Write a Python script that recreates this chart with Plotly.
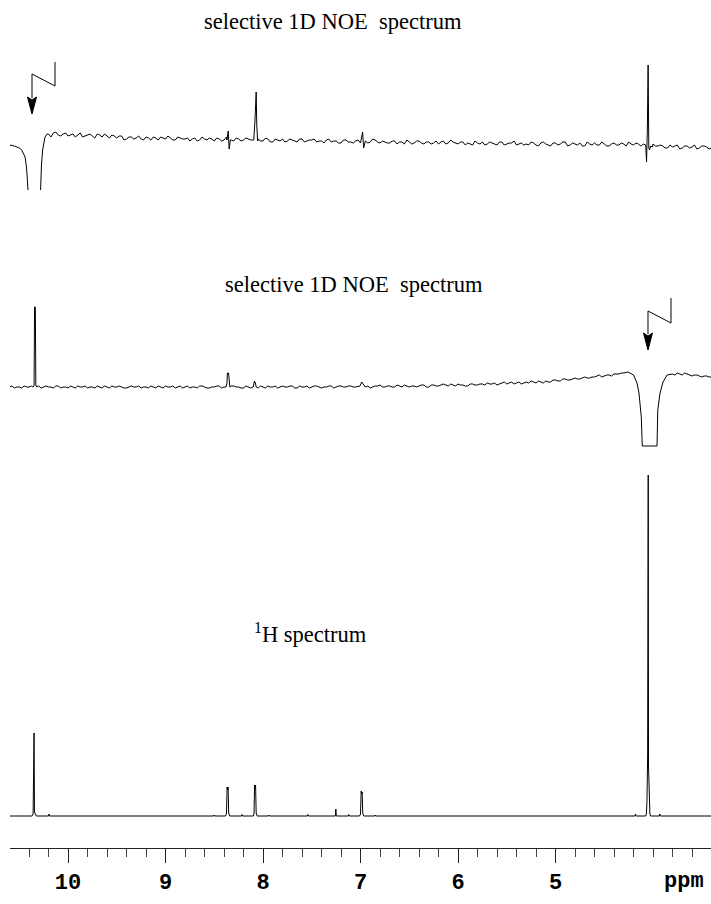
import numpy as np
import plotly.graph_objects as go

# ---------------- data (ppm, intensity in arbitrary units) ----------------
# x-axis ticks
tick_vals = [10, 9, 8, 7, 6, 5]
tick_text = ["10", "9", "8", "7", "6", "5"]
unit_label = "ppm"

# --- selective 1D NOE spectrum (irradiated at 10.35 ppm) ---
noe1_grid_start, noe1_grid_step = 10.20, 0.05
noe1_baseline = [
    6, 7, 5, 6, 4, 6, 5, 3, 5, 4, 6, 3, 4, 5,
    2, 4, 1, 3, 2, 1, 3, 0, 2, 3, 1, 2, 0, 2,
    1, -1, 2, 0, 1, 2, -1, 1, 0, 2, -1, 1, 0, 1,
    0, 1, -1, 1, -2, 0, 1, -1, 0, -2, 1, -1, 0, -2,
    -1, 0, -2, -1, -3, 0, -2, -1, -3, -1, -2, 0, -3, -2,
    -3, -1, -2, -4, -2, -3, -1, -4, -2, -3, -4, -1, -3, -2,
    -4, -2, -3, -5, -3, -2, -4, -3, -5, -2, -4, -3, -5, -3,
    -4, -2, -5, -3, -4, -6, -3, -4, -2, -5, -4, -3, -6, -4,
    -3, -5, -4, -6, -3, -5, -4, -2, -5, -4, -3, -5, -4, -6,
    -6, -8, -7, -5, -8, -6, -7, -9, -6, -7, -8,
]
# values read half-way between the grid points above (10.175 ... 3.425 ppm)
noe1_baseline_mid = [
    3, 8, 4, 7, 5, 3, 7, 4, 6, 2, 5, 6, 2, 4,
    4, 0, 3, 1, 4, 0, 2, 3, 0, 2, 4, 0, 3, 1,
    2, 1, -1, 3, 0, 1, 2, -1, 3, 0, 2, -1, 2, 0,
    -1, -1, 2, -2, 1, -1, -2, 1, -1, 1, -2, 0, 1, -1,
    -3, 1, -1, -3, 0, -2, -3, 0, -1, -3, 1, -2, -1, -3,
    -1, -4, -2, 0, -4, -1, -3, -2, -4, -1, -2, -4, 0, -3,
    -2, -5, -4, -1, -4, -5, -2, -4, -2, -5, -3, -1, -4, -5,
    -5, -3, -6, -2, -5, -3, -5, -2, -6, -3, -5, -6, -2, -5,
    -5, -2, -6, -4, -5, -3, -6, -4, -3, -6, -5, -2, -6, -5,
    -8, -5, -6, -9, -6, -8, -5, -8, -6, -9,
]
noe1_features = [
    # irradiated signal (saturated, negative)
    [(10.595, -5), (10.55, -6), (10.50, -8), (10.475, -10), (10.44, -17),
     (10.425, -28), (10.41, -50), (10.39, -100), (10.34, -140), (10.30, -100),
     (10.284, -50), (10.272, -25), (10.26, -10), (10.248, -1), (10.236, 3), (10.215, 6)],
    [(8.37, 0), (8.357, 9), (8.347, -9), (8.335, 0)],
    [(8.095, 0), (8.082, 20), (8.077, 48), (8.070, 48), (8.064, 15), (8.055, -1)],
    [(6.995, -1), (6.978, 8), (6.968, -8), (6.955, -2)],
    [(4.10, -4), (4.075, -5), (4.066, -22), (4.058, 10), (4.050, 75), (4.043, -8),
     (4.035, -10), (4.025, -6), (4.005, -7)],
]

# --- selective 1D NOE spectrum (irradiated at 4.05 ppm) ---
noe2_left_start, noe2_step = 10.60, 0.05
noe2_baseline_left = [
    0, -1, 0, 1, 0, -1, 1, 0, 0, -1, 1, 0, -1, 0,
    1, 0, -1, 0, 1, -1, 0, 1, 0, 0, -1, 1, 0, -1,
    0, 1, -1, 0, 1, 0, -1, 1, 0, -1, 0, 1, 0, -1,
    0, 1, 0, -1, 1, 0, -1, 0, 1, -1, 0, 1, 0, -1,
    1, 0, 1, -1, 0, 1, 0, 1, -1, 0, 1, 0, 1, 0,
    1, 0, 1, 0, -1, 1, 2, 0, 1, 0, 1, 2, 0, 1,
    1, 2, 0, 2, 1, 3, 1, 2, 3, 2, 1, 3, 2, 3,
    4, 3, 2, 4, 3, 5, 4, 3, 5, 6, 4, 5, 6, 5,
    7, 6, 8, 7, 9, 8, 10, 9, 10, 12, 11, 12, 13, 13,
    14,
]
# half-way values (10.575 ... 4.325 ppm)
noe2_baseline_left_mid = [
    1, 0, -1, 0, 1, 0, -1, 1, 0, 1, -1, 0, 1, -1,
    0, 1, 0, -1, 0, 1, -1, 0, 1, -1, 0, 0, 1, 0,
    -1, 0, 1, -1, 0, 1, 0, -1, 1, 0, -1, 1, -1, 0,
    1, -1, 0, 1, 0, -1, 1, -1, 0, 1, -1, 0, 1, 0,
    0, 1, -1, 1, 0, -1, 1, 0, 0, 1, -1, 1, 0, 1,
    0, 1, -1, 1, 0, 1, 0, 1, 0, 2, 0, 1, 1, 0,
    2, 0, 2, 1, 2, 2, 3, 1, 2, 1, 3, 2, 3, 2,
    3, 4, 3, 5, 4, 3, 5, 4, 4, 5, 6, 4, 5, 7,
    6, 8, 7, 8, 8, 9, 9, 10, 11, 10, 12, 11, 13, 14,
]
noe2_right_start = 3.80
noe2_baseline_right = [13, 14, 12, 13, 11, 12, 10, 11, 10]
noe2_baseline_right_mid = [12, 13, 14, 12, 12, 11, 11, 10]
noe2_features = [
    [(10.36, 0), (10.348, 1), (10.343, 80), (10.335, 80), (10.33, 2), (10.32, 0)],
    [(8.38, 0), (8.37, 3), (8.365, 14), (8.353, 14), (8.348, 2), (8.34, 0)],
    [(8.10, 0), (8.088, 6), (8.078, 4), (8.07, 0)],
    [(7.005, 1), (6.988, 5), (6.975, 3), (6.96, 1)],
    # irradiated signal (saturated, clipped)
    [(4.256, 15), (4.20, 12), (4.164, 4), (4.144, -6), (4.12, -30), (4.11, -59),
     (3.959, -59), (3.951, -23), (3.928, -6), (3.897, 5), (3.856, 12), (3.82, 13)],
]

# --- 1H spectrum ---
h1_limits = (10.595, 3.405)
h1_peaks = [
    [(10.37, 0), (10.358, 2), (10.354, 83), (10.348, 83), (10.344, 4), (10.335, 1), (10.325, 0)],
    [(10.20, 0), (10.195, 2), (10.19, 0)],
    [(8.505, 0), (8.50, 1), (8.495, 0)],
    [(8.385, 0), (8.375, 2), (8.368, 29), (8.363, 26), (8.358, 29), (8.352, 3), (8.342, 0)],
    [(8.22, 0), (8.215, 1.5), (8.21, 0)],
    [(8.10, 0), (8.092, 2), (8.086, 31), (8.081, 28), (8.076, 31), (8.07, 3), (8.06, 0)],
    [(7.945, 0), (7.94, 1), (7.935, 0)],
    [(7.545, 0), (7.54, 1.5), (7.535, 0)],
    [(7.258, 0), (7.253, 7), (7.248, 0)],
    [(7.125, 0), (7.12, 1.5), (7.115, 0)],
    [(7.01, 0), (7.0, 2), (6.993, 25), (6.988, 22), (6.983, 24), (6.977, 3), (6.967, 0)],
    [(6.855, 0), (6.85, 1), (6.845, 0)],
    [(4.185, 0), (4.18, 2), (4.175, 0)],
    [(4.075, 0), (4.068, 2), (4.062, 14), (4.055, 60), (4.053, 341), (4.049, 341),
     (4.046, 50), (4.04, 12), (4.032, 2), (4.025, 0)],
    [(3.935, 0), (3.93, 2), (3.925, 0)],
]


# ---------------- assemble traces ----------------
def grid(start, step, vals):
    return [(round(start - step * i, 3), v) for i, v in enumerate(vals)]


def merge(base_pts, features):
    spans = [(min(p for p, _ in f) - 0.004, max(p for p, _ in f) + 0.004) for f in features]
    pts = [(p, v) for p, v in base_pts if not any(a <= p <= b for a, b in spans)]
    for f in features:
        pts.extend(f)
    pts.sort(key=lambda t: -t[0])
    return [p for p, _ in pts], [v for _, v in pts]


half = noe1_grid_step / 2
noe1_x, noe1_y = merge(grid(noe1_grid_start, noe1_grid_step, noe1_baseline)
                       + grid(noe1_grid_start - half, noe1_grid_step, noe1_baseline_mid),
                       noe1_features)
noe2_x, noe2_y = merge(grid(noe2_left_start, noe2_step, noe2_baseline_left)
                       + grid(noe2_left_start - half, noe2_step, noe2_baseline_left_mid)
                       + grid(noe2_right_start, noe2_step, noe2_baseline_right)
                       + grid(noe2_right_start - half, noe2_step, noe2_baseline_right_mid),
                       noe2_features)
h1_x, h1_y = merge([(h1_limits[0], 0), (h1_limits[1], 0)], h1_peaks)

W, H = 711, 904
PH = 848  # plot-area height (bottom margin 56)


def fx(x):
    return x / W


def fy(y):
    return 1 - y / PH


line = dict(color="black", width=1)
fig = go.Figure()
fig.add_trace(go.Scatter(x=noe1_x, y=noe1_y, mode="lines", line=line, xaxis="x", yaxis="y"))
fig.add_trace(go.Scatter(x=noe2_x, y=noe2_y, mode="lines", line=line, xaxis="x", yaxis="y2"))
fig.add_trace(go.Scatter(x=h1_x, y=h1_y, mode="lines", line=line, xaxis="x", yaxis="y3"))

hidden = dict(visible=False, showgrid=False, zeroline=False, fixedrange=True)

title_font = dict(family="Liberation Serif, Times New Roman, serif", size=22.5, color="black")
mono = dict(family="Liberation Mono, Courier New, monospace", size=22, color="black", weight="bold")

annotations = [
    dict(text="selective 1D NOE\u00a0 spectrum", x=fx(333), y=fy(22), xref="paper", yref="paper",
         showarrow=False, font=title_font, xanchor="center", yanchor="middle"),
    dict(text="selective 1D NOE\u00a0 spectrum", x=fx(354), y=fy(284), xref="paper", yref="paper",
         showarrow=False, font=title_font, xanchor="center", yanchor="middle"),
    dict(text="<sup>1</sup>H spectrum", x=fx(310), y=fy(633), xref="paper", yref="paper",
         showarrow=False, font=title_font, xanchor="center", yanchor="middle"),
    dict(text=unit_label, x=fx(684), y=fy(882), xref="paper", yref="paper",
         showarrow=False, font=mono, xanchor="center", yanchor="middle"),
]


def path(pts, close=False):
    s = "M " + " L ".join(f"{fx(x):.5f},{fy(y):.5f}" for x, y in pts)
    return s + (" Z" if close else "")


shapes = []
for (xa, ya), (xb, yb), yc, yd in [((55, 62), (32, 74), 86, 98), ((671, 298), (648, 311), 323, 334)]:
    shapes.append(dict(type="path", xref="paper", yref="paper",
                       path=path([(xa, ya), (xa, yc), (xb, yb), (xb, yd)]),
                       line=dict(color="black", width=1)))
    shapes.append(dict(type="path", xref="paper", yref="paper",
                       path=path([(xb - 4.5, yd - 1), (xb, yd + 2), (xb + 4.5, yd - 1), (xb, yd + 16)], close=True),
                       fillcolor="black", line=dict(color="black", width=1)))

fig.update_layout(
    width=W, height=H,
    margin=dict(l=0, r=0, t=0, b=56),
    paper_bgcolor="white", plot_bgcolor="white",
    showlegend=False,
    xaxis=dict(
        domain=[10 / W, 1], range=[10.5949, 3.4051], anchor="free", position=0,
        showgrid=False, zeroline=False, showline=True, linecolor="#222", linewidth=1,
        tickmode="array", tickvals=tick_vals, ticktext=tick_text,
        ticks="outside", ticklen=14, tickwidth=1, tickcolor="#222",
        tickfont=mono,
        minor=dict(tickmode="linear", tick0=0, dtick=0.2, ticks="outside", ticklen=8,
                   tickwidth=1, tickcolor="#444", showgrid=False),
        fixedrange=True,
    ),
    yaxis=dict(domain=[fy(190), fy(40)], range=[-50, 100], anchor="x", **hidden),
    yaxis2=dict(domain=[fy(450), fy(290)], range=[-63, 97], anchor="x", **hidden),
    yaxis3=dict(domain=[fy(830), fy(460)], range=[-14, 356], anchor="x", **hidden),
    annotations=annotations,
    shapes=shapes,
)

fig.write_html("out.html", config={"displayModeBar": False},
               post_script="document.body.style.margin='0';document.body.style.padding='0';")
